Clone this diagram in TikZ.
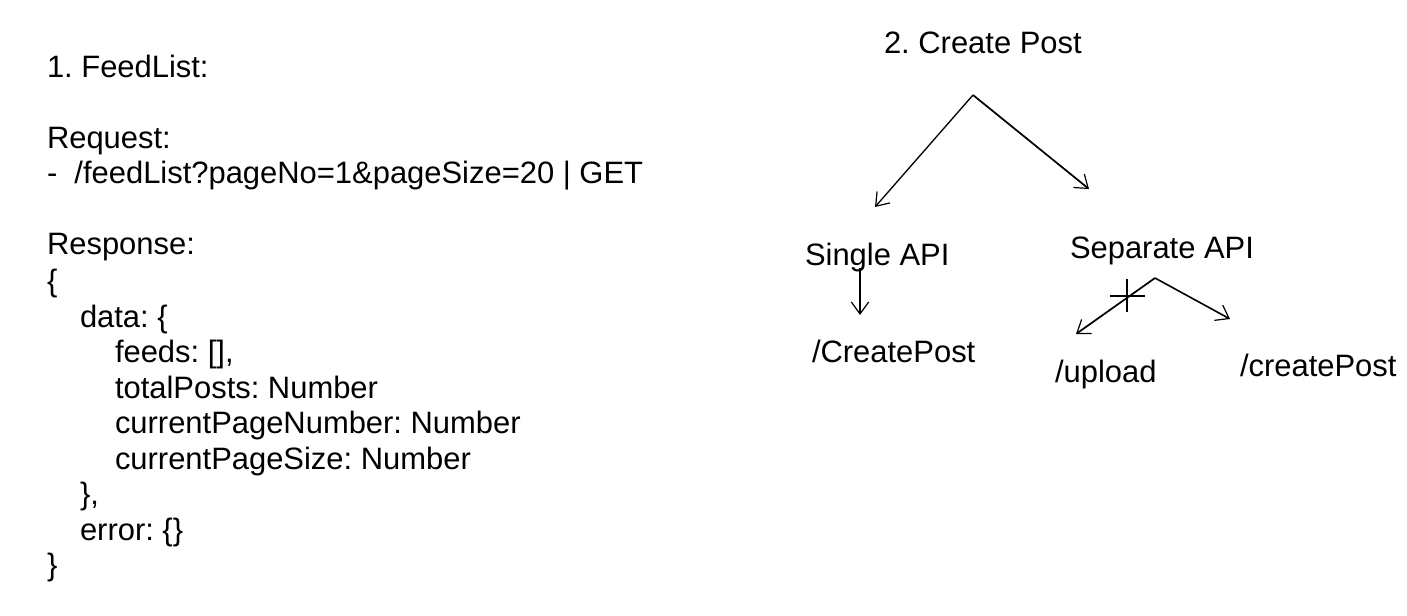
\documentclass[tikz,border=0pt]{standalone}
\usepackage{fontspec}
\setmainfont{Liberation Sans}
\usetikzlibrary{arrows.meta}
\frenchspacing
\tikzset{
  txt/.style={anchor=base west, inner sep=0pt, outer sep=0pt, font=\fontsize{23.2pt}{28pt}\selectfont\frenchspacing},
  conn/.style={line width=1pt, -{Straight Barb[length=9pt, width=13pt, line width=0.9pt]}},
  plain/.style={line width=1pt},
}
\begin{document}
\begin{tikzpicture}[x=0.75pt, y=-0.75pt]
\useasboundingbox (0,0) rectangle (1407,615);
% Left: FeedList
\node[txt] (t1)  at (47,77)  {1. FeedList:};
\node[txt] (t2)  at (47,148) {Request:};
\node[txt] (t3)  at (47,183) {-\ \ /feedList?pageNo=1\&pageSize=20 | GET};
\node[txt] (t4)  at (47,254) {Response:};
\node[txt] (t5)  at (47,291) {\{};
\node[txt] (t6)  at (80,327) {data: \{};
\node[txt] (t7)  at (115,362) {feeds: [],};
\node[txt] (t8)  at (115,398) {totalPosts: Number};
\node[txt] (t9)  at (115,433) {currentPageNumber: Number};
\node[txt] (t10) at (115,469) {currentPageSize: Number};
\node[txt] (t11) at (80,504) {\},};
\node[txt] (t12) at (80,540) {error: \{\}};
\node[txt] (t13) at (47,575) {\}};
% Right: Create Post
\node[txt] (cp)     at (884,53)  {2. Create Post};
\node[txt] (single) at (805,265) {Single API};
\node[txt] (sep)    at (1070,258) {Separate API};
\node[txt] (cpost)  at (812,362) {/CreatePost};
\node[txt] (upload) at (1055,382) {/upload};
\node[txt] (cpost2) at (1240,376) {/createPost};
% connector points
\coordinate (apex)    at (973,95);
\coordinate (singleT) at (875,207);
\coordinate (sepT)    at (1089,189);
\coordinate (sgFrom)  at (860,268);
\coordinate (sgTo)    at (860,315);
\coordinate (spApex)  at (1155,278);
\coordinate (upT)     at (1076,334);
\coordinate (cpT)     at (1230,319);
\coordinate (crossC)  at (1127,296);
% connectors
\draw[conn] (apex) -- (singleT);
\draw[conn, line width=1.3pt] (apex) -- (sepT);
\draw[conn, line width=0.8pt] (sgFrom) -- (sgTo);
\draw[conn, line width=1.3pt] (spApex) -- (upT);
\draw[conn, line width=1.2pt] (spApex) -- (cpT);
% cross mark
\draw[plain, line width=1.3pt] ([xshift=-12.75pt]crossC) -- ([xshift=13.5pt]crossC);
\draw[plain, line width=1.3pt] ([yshift=12.75pt]crossC) -- ([yshift=-12pt]crossC);
\end{tikzpicture}
\end{document}
